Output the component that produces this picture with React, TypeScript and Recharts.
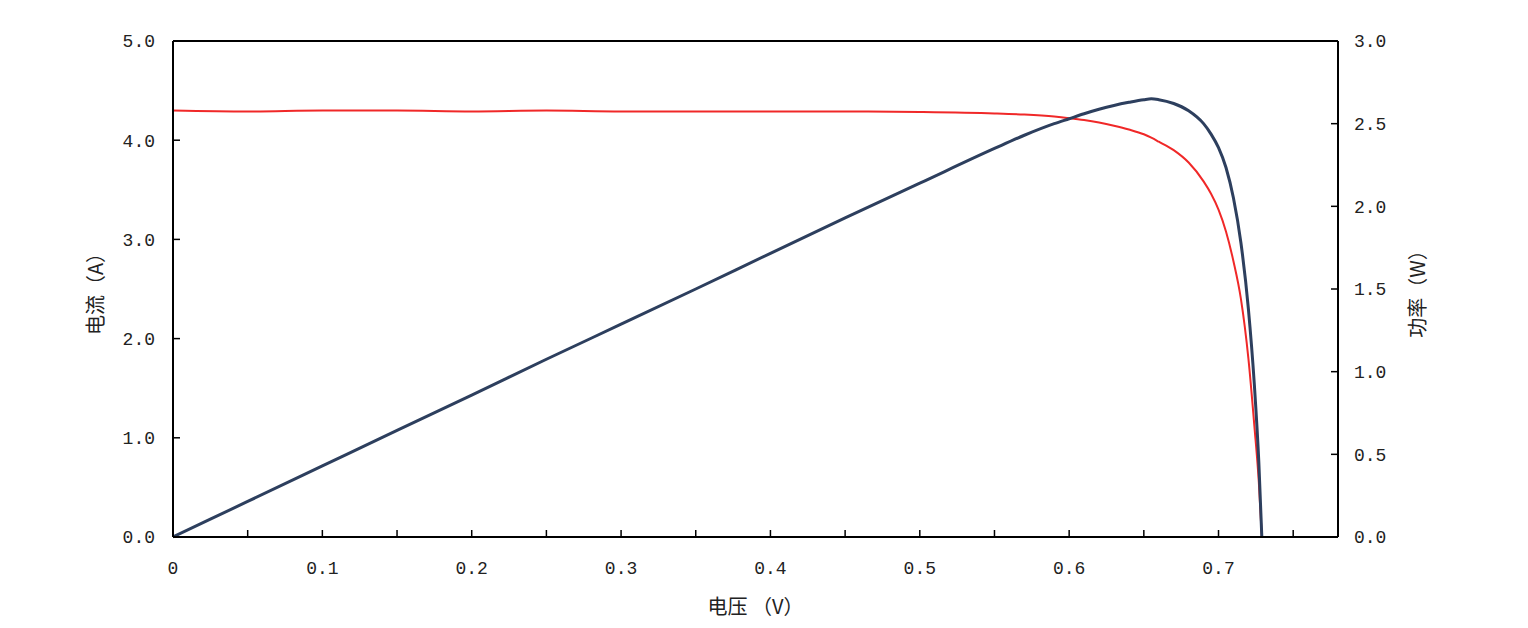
import { ComposedChart, Line, XAxis, YAxis, ReferenceLine, Label } from "recharts";

// I-V and P-V curve of a solar cell
const voltage = [0, 0.05, 0.1, 0.15, 0.2, 0.25, 0.3, 0.35, 0.4, 0.45, 0.5, 0.55, 0.57, 0.59, 0.6, 0.61, 0.62, 0.63, 0.64, 0.65, 0.655, 0.66, 0.67, 0.68, 0.69, 0.695, 0.7, 0.705, 0.71, 0.715, 0.72, 0.724, 0.727, 0.729];
const current = [4.3, 4.29, 4.3, 4.3, 4.29, 4.3, 4.29, 4.29, 4.29, 4.29, 4.285, 4.27, 4.258, 4.238, 4.222, 4.203, 4.178, 4.146, 4.108, 4.06, 4.025, 3.985, 3.9, 3.775, 3.585, 3.46, 3.3, 3.08, 2.78, 2.4, 1.8, 1.12, 0.55, 0];
const power = [0, 0.215, 0.43, 0.645, 0.858, 1.075, 1.287, 1.5, 1.716, 1.93, 2.14, 2.35, 2.43, 2.5, 2.53, 2.56, 2.587, 2.61, 2.629, 2.645, 2.65, 2.645, 2.622, 2.578, 2.5, 2.437, 2.355, 2.235, 2.05, 1.78, 1.38, 0.92, 0.45, 0];

const xTicks = [0, 0.05, 0.1, 0.15, 0.2, 0.25, 0.3, 0.35, 0.4, 0.45, 0.5, 0.55, 0.6, 0.65, 0.7, 0.75];
const currentTicks = [0, 1, 2, 3, 4, 5];
const powerTicks = [0, 0.5, 1, 1.5, 2, 2.5, 3];

const chartData = voltage.map((v, i) => ({ v, current: current[i], power: power[i] }));

const FONT = "'Liberation Mono', 'Noto Sans CJK SC', monospace";
const tickStyle = { fontSize: 18, fill: "#222", fontFamily: FONT };
const labelStyle = { fontSize: 20, fill: "#222", fontFamily: "'Noto Sans CJK SC', 'Liberation Mono', sans-serif" };

function formatVoltage(v: number): string {
  const tenth = Math.round(v * 100) % 10 === 0;
  if (!tenth) return "";
  return v === 0 ? "0" : v.toFixed(1);
}

export default function App() {
  return (
    <div style={{ width: 1512, height: 612 }}>
      <ComposedChart width={1512} height={612} data={chartData} margin={{ top: 33, right: 0, left: 0, bottom: 0 }}>
        <XAxis
          dataKey="v"
          type="number"
          domain={[0, 0.78]}
          ticks={xTicks}
          tickFormatter={formatVoltage}
          height={83}
          tickSize={-7}
          tickMargin={31}
          tick={tickStyle}
          axisLine={{ stroke: "#000", strokeWidth: 2 }}
          tickLine={{ stroke: "#000", strokeWidth: 1.5 }}
          allowDataOverflow
        >
          <Label value="电压 （V）" position="center" dy={28} style={labelStyle} />
        </XAxis>
        <YAxis
          yAxisId="i"
          orientation="left"
          domain={[0, 5]}
          ticks={currentTicks}
          tickFormatter={(t: number) => t.toFixed(1)}
          width={165}
          tickSize={-7}
          tickMargin={25}
          tick={tickStyle}
          axisLine={{ stroke: "#000", strokeWidth: 2 }}
          tickLine={{ stroke: "#000", strokeWidth: 1.5 }}
        >
          <Label value="电流（A）" angle={-90} position="center" dx={5} style={labelStyle} />
        </YAxis>
        <YAxis
          yAxisId="p"
          orientation="right"
          domain={[0, 3]}
          ticks={powerTicks}
          tickFormatter={(t: number) => t.toFixed(1)}
          width={182}
          tickSize={-7}
          tickMargin={23}
          tick={tickStyle}
          axisLine={{ stroke: "#000", strokeWidth: 2 }}
          tickLine={{ stroke: "#000", strokeWidth: 1.5 }}
        >
          <Label value="功率（W）" angle={-90} position="center" dx={-11} style={labelStyle} />
        </YAxis>
        <ReferenceLine yAxisId="i" y={5} stroke="#000" strokeWidth={2} />
        <Line yAxisId="i" type="monotone" dataKey="current" stroke="#F02828" strokeWidth={2} dot={false} isAnimationActive={false} />
        <Line yAxisId="p" type="monotone" dataKey="power" stroke="#2D3F5E" strokeWidth={3} dot={false} isAnimationActive={false} />
      </ComposedChart>
    </div>
  );
}
